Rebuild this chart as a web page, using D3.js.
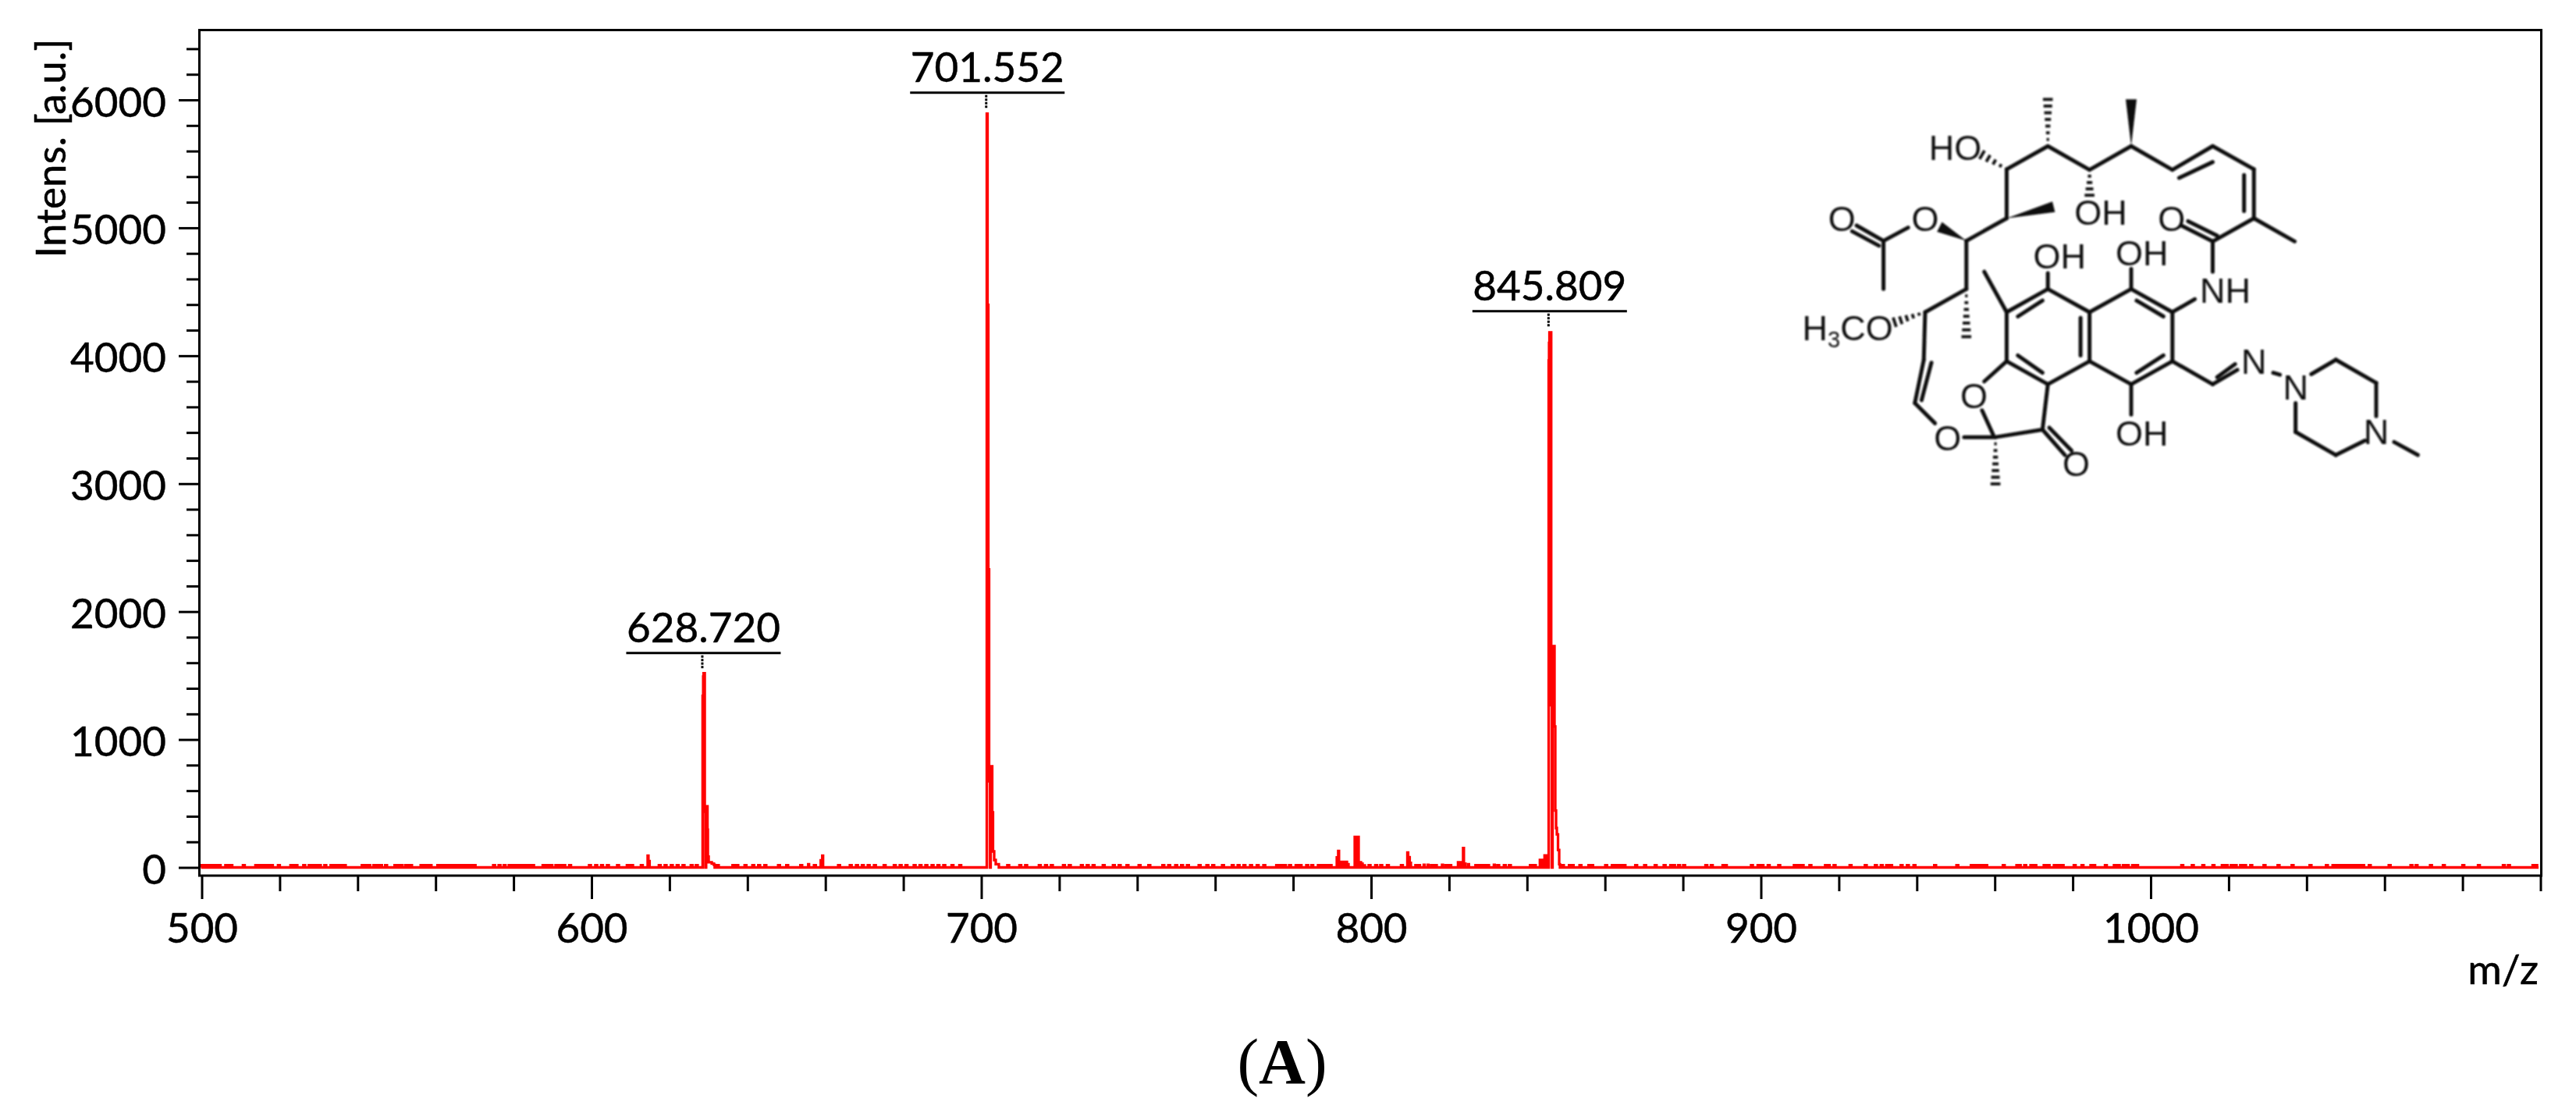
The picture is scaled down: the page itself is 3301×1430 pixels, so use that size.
<!DOCTYPE html>
<html>
<head>
<meta charset="utf-8">
<script src="https://cdnjs.cloudflare.com/ajax/libs/d3/7.8.5/d3.min.js"></script>
<style>
html,body{margin:0;padding:0;background:#fff}
svg{display:block}
</style>
</head>
<body>
<svg id="c" width="3301" height="1430"></svg>
<script>
// ---------- tick values ----------
const xMajorTicks = [500,600,700,800,900,1000];
const xMinorTicks = [520,540,560,580,620,640,660,680,720,740,760,780,820,840,860,880,920,940,960,980,1020,1040,1060,1080,1100];
const yMajorTicks = [0,1000,2000,3000,4000,5000,6000];
const yMinorTicks = [200,400,600,800,1200,1400,1600,1800,2200,2400,2600,2800,3200,3400,3600,3800,4200,4400,4600,4800,5200,5400,5600,5800,6200,6400];

// ---------- main peak profiles (m/z, intensity) ----------
const peak628Mz  = [628.50,628.65,628.75,628.85,629.05,629.2,629.4,629.75,629.85,630.05,630.45,630.85,631.4];
const peak628Int = [1341,1492,1518,1518,436,0,478,295,85,40,40,30,20];
const peak701Mz  = [701.40,701.60,701.80,702.00,702.2,702.4,702.8,703.0,703.3,703.7,704.3];
const peak701Int = [5892,4398,2329,674,0,790,430,125,58,25,25];
const peak845Mz  = [845.55,845.65,845.75,845.95,846.2,846.35,846.55,847.05,847.25,847.45,847.65,847.95,848.25];
const peak845Int = [3963,4100,4183,4183,1268,0,1730,1102,445,308,259,137,25];

// ---------- minor peaks ----------
const minorMz  = [614.5,614.8,655.7,658.9,659.3,791.3,791.66,792.4,793.0,793.7,794.1,795.9,796.3,796.7,797.3,797.7,798.3,809.4,809.8,810.1,813.6,814.6,818.3,822.4,822.9,823.3,823.7,824.1,825,831.6,843.4,843.8,844.1,844.6,845.0];
const minorInt = [92,50,25,55,92,78,128,43,43,43,25,238,238,238,40,30,16,116,80,35,20,20,20,40,40,40,152,30,25,20,58,58,40,94,94];

// ---------- baseline noise ----------
const noiseLevel = 18;
const noiseMz = [500.2,501.3,502,502.6,503.3,504,504.6,506.3,507,507.6,508,510.8,514,514.65,515.3,516,516.65,517.3,518,519.8,523,523.7,524.3,526.3,527.7,528.3,529,529.7,530.3,531.7,533.3,534,534.7,535.8,536.7,541.3,542,543,544.3,545,546,547.3,549.7,550.4,551.2,552.4,553,553.7,556.4,557,557.7,558.7,560.7,561.4,562.4,563,564,565,566,567,568,569,570,575,576.4,577.7,579,580,581,582,583,584,585,587.7,588.7,589.7,591,592,593,594.5,599.6,601.2,602.7,604.2,606.8,609.3,610.4,612.9,617.5,619,620.6,622.1,623.6,625.7,627,632.4,636.4,637.4,639.5,641.5,643,644.6,648.1,650.2,653.8,657.3,663.5,666.5,668.1,669.6,671.1,672.7,675.2,677.8,679.3,680.8,682.9,684.4,685.9,687.5,689,690.5,692.6,694.6,706.9,710,711.5,715,716.6,718.1,721.2,722.7,725.8,727.3,728.8,731.4,734,735.5,737.5,740.6,743.1,746.7,748.2,750,751.5,753,756,758,759.5,762,764.5,766,767.5,769.2,770.9,772.6,775.9,776.9,777.9,779.2,780.9,781.9,783.6,784.9,786.6,787.6,788.6,789.6,799.6,801.3,802.6,804.3,807.9,811.6,812.3,815.6,816.6,819.3,820.3,827,828,829,830,832.6,834.3,835.6,841,842,849.2,851,851.7,853.7,856,856.7,860.3,862,863,864,865,868,870.3,873,875.3,877,877.7,879,880.3,886,887.4,890.4,891,897.7,899.4,900.4,902,904.7,908.7,909.7,910.7,912.7,916.7,917.4,918.9,923,926.9,929.5,931,932.4,933.4,936.1,937.7,939.4,944.7,950.4,954.1,955.1,956.1,957.1,957.8,962.3,965.8,966.4,967.8,969.4,970.4,972.8,973.8,975.4,976.4,977.4,980.5,982.5,984.8,985.5,988.5,990.8,991.8,993.1,994.1,995.5,996.5,1008.1,1010.8,1013.5,1016.1,1018.5,1019.5,1020.8,1021.8,1023.2,1024.2,1025.8,1029.2,1032.8,1036.4,1041,1045.2,1046.9,1047.9,1048.9,1049.9,1050.9,1051.9,1052.9,1053.9,1054.5,1056.2,1061.3,1066.9,1068.2,1071.9,1075.2,1080.2,1084.2,1090.6,1091.9,1098.2,1098.9];

// ---------- annotated peaks ----------
const labelMz   = [628.720,701.552,845.809];
const labelText = ["628.720","701.552","845.809"];
const labelTop  = [1518,5892,4183];
const labelRise = [157,158,158];

// ---------- molecule drawing (in its own sketch units) ----------
const bonds = [
 [560,370,652,290],[652,290,745,372],[745,372,838,290],[838,290,930,372],[930,372,1020,290],[945,400,1020,345],[1020,290,1112,370],
 [1112,370,1112,540],[1090,390,1090,515],[1112,540,1203,620],[1112,540,1020,620],[1020,620,950,565],[1030,600,965,550],[1020,620,1020,725],
 [980,820,930,865],[560,370,560,540],[560,540,470,618],[340,572,285,618],[285,618,225,565],[275,635,215,585],[285,618,285,785],
 [470,618,470,785],[470,785,378,865],[378,865,375,1030],[375,1030,355,1180],[392,1040,370,1170],[355,1180,400,1250],[465,1298,535,1298],
 [535,1298,640,1272],[640,1272,690,1360],[655,1265,705,1345],[530,1290,505,1205],[510,1105,560,1035],
 [560,1035,652,1115],[652,1115,745,1035],[745,1035,745,865],[745,865,652,785],[652,785,560,865],[560,865,560,1035],
 [745,1035,838,1115],[838,1115,930,1035],[930,1035,930,865],[930,865,838,785],[838,785,745,865],
 [640,825,585,880],[585,1015,640,1075],[725,885,725,1015],[850,825,910,880],[850,1075,910,1015],
 [560,865,510,725],[652,785,652,730],[838,785,838,715],[838,1115,838,1220],[652,1115,640,1272],
 [930,1035,1020,1115],[1020,1115,1075,1065],[1030,1090,1070,1045],[1155,1075,1170,1082],
 [1240,1080,1295,1030],[1295,1030,1385,1110],[1385,1110,1385,1225],[1205,1180,1205,1280],[1205,1280,1295,1360],[1295,1360,1360,1310],[1425,1315,1478,1360]
];
const wedges = [[838,290,838,128],[560,540,665,500],[470,618,410,570]];
const hashes = [[652,290,652,128],[560,370,505,320],[745,372,745,460],[470,785,470,950],[378,865,310,900],[535,1298,535,1460]];
const atoms = [
 ["HO",445,295],["OH",770,518],["O",378,542],["O",192,540],["O",928,540],["OH",678,670],["OH",862,660],["NH",1048,790],
 ["O",487,1155],["O",428,1300],["O",715,1390],["OH",862,1285],["N",1112,1035],["N",1205,1125],["N",1385,1280]
];
const methoxy = {x:205,y:920};

// ---------- scales ----------
const x = d3.scaleLinear().domain([500,1100]).range([258.5,3255.5]);
const y = d3.scaleLinear().domain([0,6000]).range([1111.5,128]);
const mx = d3.scaleLinear().domain([0,1568]).range([2250,3150]);
const my = d3.scaleLinear().domain([0,1568]).range([80,660]);

const svg = d3.select("#c");
const labelFont = "Lato, 'Open Sans', sans-serif";
const labelSize = 53;
function ink(sel){ return sel.attr("fill","#000").attr("stroke","#000").attr("stroke-width",0.5); }

// ---------- spectrum series ----------
const pts = [];
function addProfile(ms, is){
  pts.push({m:ms[0]-0.02,i:0});
  ms.forEach((m,k)=>pts.push({m:m,i:is[k]}));
  pts.push({m:ms[ms.length-1]+0.2,i:0});
}
addProfile(peak628Mz,peak628Int);
addProfile(peak701Mz,peak701Int);
addProfile(peak845Mz,peak845Int);
minorMz.forEach((m,k)=>{pts.push({m:m-0.1,i:minorInt[k]});pts.push({m:m+0.1,i:0});});
noiseMz.forEach(m=>{pts.push({m:m-0.22,i:noiseLevel});pts.push({m:m+0.22,i:0});});
pts.push({m:499.8,i:0},{m:1099.5,i:0});
pts.sort((a,b)=>a.m-b.m);

svg.append("path").datum(pts)
  .attr("d",d3.line().x(d=>x(d.m)).y(d=>y(d.i)).curve(d3.curveStepAfter))
  .attr("fill","none").attr("stroke","#ff0000").attr("stroke-width",3.3).attr("stroke-linejoin","miter");

// ---------- frame ----------
svg.append("rect").attr("x",255.5).attr("y",38.5).attr("width",3001).attr("height",1083.5)
  .attr("fill","none").attr("stroke","#000").attr("stroke-width",3);

// ---------- axes ----------
function styleAxis(g){
  g.select(".domain").remove();
  g.selectAll("line").attr("stroke","#000").attr("stroke-width",3);
  ink(g.selectAll("text")).attr("font-family",labelFont).attr("font-size",labelSize);
}
const gxMin = svg.append("g").attr("transform","translate(0,1123)")
  .call(d3.axisBottom(x).tickValues(xMinorTicks).tickSize(19).tickFormat(""));
styleAxis(gxMin);
const gxMaj = svg.append("g").attr("transform","translate(0,1123)")
  .call(d3.axisBottom(x).tickValues(xMajorTicks).tickSize(29).tickFormat(d3.format("d")));
styleAxis(gxMaj);
gxMaj.selectAll("text").attr("y",85).attr("dy",0);

const gyMin = svg.append("g").attr("transform","translate(255,0)")
  .call(d3.axisLeft(y).tickValues(yMinorTicks).tickSize(16).tickFormat(""));
styleAxis(gyMin);
const gyMaj = svg.append("g").attr("transform","translate(255,0)")
  .call(d3.axisLeft(y).tickValues(yMajorTicks).tickSize(26).tickPadding(16).tickFormat(d3.format("d")));
styleAxis(gyMaj);
gyMaj.selectAll("text").attr("dy",21).attr("x",-42);

// ---------- axis titles ----------
ink(svg.append("text").text("Intens. [a.u.]"))
  .attr("transform","translate(84,190) rotate(-90)").attr("text-anchor","middle")
  .attr("font-family",labelFont).attr("font-size",labelSize);
ink(svg.append("text").text("m/z")).attr("x",3253).attr("y",1261).attr("text-anchor","end")
  .attr("font-family",labelFont).attr("font-size",labelSize);

// ---------- peak annotations ----------
labelMz.forEach((m,k)=>{
  const top = y(labelTop[k]);
  const ly = top - labelRise[k] + 131;
  const px = x(m);
  const g = svg.append("g");
  ink(g.append("text").text(labelText[k])).attr("x",px).attr("y",ly-14).attr("text-anchor","middle")
    .attr("font-family",labelFont).attr("font-size",labelSize);
  g.append("line").attr("x1",px-99).attr("x2",px+99).attr("y1",ly).attr("y2",ly).attr("stroke","#000").attr("stroke-width",3);
  g.append("line").attr("x1",px-1.5).attr("x2",px-1.5).attr("y1",ly+3).attr("y2",top-6)
    .attr("stroke","#000").attr("stroke-width",3).attr("stroke-dasharray","3 1.5");
});

// ---------- panel letter ----------
const pl = svg.append("text").attr("x",1643).attr("y",1388).attr("text-anchor","middle")
  .attr("font-family","'Liberation Serif',serif").attr("font-size",83).attr("fill","#000");
pl.append("tspan").text("(");
pl.append("tspan").text("A").attr("font-weight","bold");
pl.append("tspan").text(")");

// ---------- molecule ----------
const defs = svg.append("defs");
defs.append("filter").attr("id","soft").append("feGaussianBlur").attr("stdDeviation",0.8);
const molInk = "#111";
const mol = svg.append("g").attr("filter","url(#soft)").attr("fill",molInk).attr("stroke-linecap","round");
mol.selectAll("line.b").data(bonds).join("line").attr("class","b")
  .attr("x1",d=>mx(d[0])).attr("y1",d=>my(d[1])).attr("x2",d=>mx(d[2])).attr("y2",d=>my(d[3]))
  .attr("stroke",molInk).attr("stroke-width",5);
mol.selectAll("path.w").data(wedges).join("path").attr("class","w")
  .attr("d",d=>{
    const a=[mx(d[0]),my(d[1])],b=[mx(d[2]),my(d[3])];
    const dx=b[0]-a[0],dy=b[1]-a[1],l=Math.hypot(dx,dy),nx=-dy/l*7,ny=dx/l*7;
    return `M${a[0]},${a[1]}L${b[0]+nx},${b[1]+ny}L${b[0]-nx},${b[1]-ny}Z`;
  });
hashes.forEach(d=>{
  const a=[mx(d[0]),my(d[1])],b=[mx(d[2]),my(d[3])];
  const dx=b[0]-a[0],dy=b[1]-a[1],l=Math.hypot(dx,dy),ux=-dy/l,uy=dx/l;
  const n=Math.max(3,Math.round(l/9));
  d3.range(1,n+1).forEach(k=>{
    const t=k/n,hw=0.8+t*5.5,cx=a[0]+dx*t,cy=a[1]+dy*t;
    mol.append("line").attr("x1",cx-ux*hw).attr("y1",cy-uy*hw).attr("x2",cx+ux*hw).attr("y2",cy+uy*hw)
      .attr("stroke",molInk).attr("stroke-width",3.8).attr("stroke-linecap","butt");
  });
});
const molFont = "'Liberation Sans',Arial,sans-serif";
mol.selectAll("text.a").data(atoms).join("text").attr("class","a").text(d=>d[0])
  .attr("x",d=>mx(d[1])).attr("y",d=>my(d[2])+16).attr("text-anchor","middle")
  .attr("font-family",molFont).attr("font-size",45);
const mt = mol.append("text").attr("x",mx(methoxy.x)).attr("y",my(methoxy.y)+16).attr("text-anchor","middle")
  .attr("font-family",molFont).attr("font-size",45);
mt.append("tspan").text("H");
mt.append("tspan").text("3").attr("font-size",29).attr("dy",9);
mt.append("tspan").text("CO").attr("dy",-9);
</script>
</body>
</html>
